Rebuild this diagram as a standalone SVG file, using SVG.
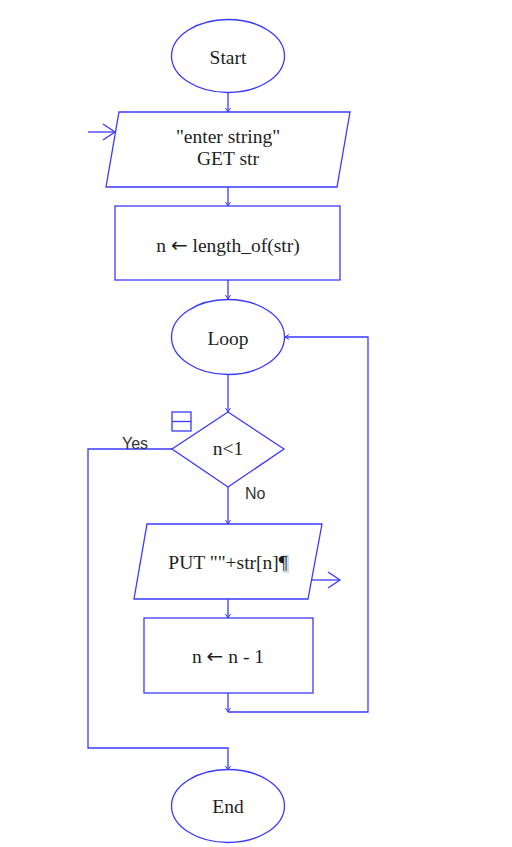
<svg xmlns="http://www.w3.org/2000/svg" width="512" height="847" viewBox="0 0 512 847">
  <defs>
    <style>
      .shape { fill: #ffffff; stroke: #3a3aff; stroke-width: 1.3; }
      .wire { fill: none; stroke: #3a3aff; stroke-width: 1.3; }
      .lbl { font-family: "Liberation Serif", "Times New Roman", serif; font-size: 19.5px; fill: #1e1e1e; text-anchor: middle; }
      .arw { font-family: "DejaVu Sans", sans-serif; font-size: 20px; }
      .tag { font-family: "Liberation Sans", Arial, sans-serif; font-size: 16px; fill: #333333; }
    </style>
    <marker id="tip" markerWidth="8" markerHeight="8" refX="6" refY="4" orient="auto" markerUnits="userSpaceOnUse">
      <path d="M2,1.5 L6,4 L2,6.5" fill="none" stroke="#3a3aff" stroke-width="1"/>
    </marker>
    <marker id="io" markerWidth="16" markerHeight="20" refX="14" refY="10" orient="auto" markerUnits="userSpaceOnUse">
      <path d="M2,2 L14,10 L2,18" fill="none" stroke="#3a3aff" stroke-width="1.3"/>
    </marker>
  </defs>
  <rect width="512" height="847" fill="#ffffff"/>

  <g id="connectors">
    <line class="wire" x1="228" y1="93" x2="228" y2="112" marker-end="url(#tip)"/>
    <line class="wire" x1="88" y1="132" x2="115" y2="132" marker-end="url(#io)"/>
    <line class="wire" x1="228" y1="187" x2="228" y2="206" marker-end="url(#tip)"/>
    <line class="wire" x1="228" y1="280" x2="228" y2="299" marker-end="url(#tip)"/>
    <line class="wire" x1="228" y1="374" x2="228" y2="412" marker-end="url(#tip)"/>
    <line class="wire" x1="228" y1="487" x2="228" y2="524" marker-end="url(#tip)"/>
    <line class="wire" x1="312" y1="580" x2="340" y2="580" marker-end="url(#io)"/>
    <line class="wire" x1="228" y1="599" x2="228" y2="618" marker-end="url(#tip)"/>
    <line class="wire" x1="228" y1="693" x2="228" y2="712" marker-end="url(#tip)"/>
    <polyline class="wire" points="228,712 368,712 368,337 285,337" marker-end="url(#tip)"/>
    <polyline class="wire" points="172,449 88,449 88,748 228,748 228,770" marker-end="url(#tip)"/>
    <text class="tag" x="122" y="449">Yes</text>
    <text class="tag" x="245" y="499">No</text>
  </g>

  <g id="start">
    <ellipse class="shape" cx="228" cy="56" rx="56.5" ry="36.5"/>
    <text class="lbl" x="228" y="64">Start</text>
  </g>

  <g id="input">
    <polygon class="shape" points="119,112 350,112 337,187 106,187"/>
    <text class="lbl" x="228" y="143">"enter string"</text>
    <text class="lbl" x="228" y="165">GET str</text>
  </g>

  <g id="assign-length">
    <rect class="shape" x="115" y="206" width="225" height="74"/>
    <text class="lbl" x="228" y="252">n <tspan class="arw">←</tspan> length_of(str)</text>
  </g>

  <g id="loop">
    <ellipse class="shape" cx="228" cy="337" rx="56.5" ry="37.5"/>
    <text class="lbl" x="228" y="345">Loop</text>
  </g>

  <g id="test">
    <polygon class="shape" points="228,412 284,449 228,487 172,449"/>
    <text class="lbl" x="228" y="455">n&lt;1</text>
    <rect x="172" y="412" width="19" height="19" fill="none" stroke="#3a3aff" stroke-width="1.3"/>
    <line x1="172" y1="421.5" x2="191" y2="421.5" stroke="#3a3aff" stroke-width="1.3"/>
  </g>

  <g id="output">
    <polygon class="shape" points="147,524 322,524 308,599 134,599"/>
    <rect x="283" y="555" width="6" height="18" fill="#c9dcea"/>
    <text class="lbl" x="228" y="569">PUT ""+str[n]¶</text>
  </g>

  <g id="decrement">
    <rect class="shape" x="144" y="618" width="169" height="75"/>
    <text class="lbl" x="228" y="663">n <tspan class="arw">←</tspan> n - 1</text>
  </g>

  <g id="end">
    <ellipse class="shape" cx="228" cy="806" rx="56.5" ry="36.5"/>
    <text class="lbl" x="228" y="813">End</text>
  </g>
</svg>
